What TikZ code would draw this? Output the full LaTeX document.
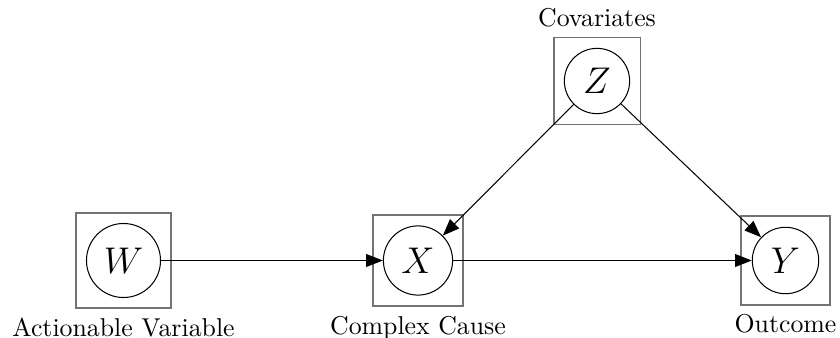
\documentclass[tikz,border=0pt]{standalone}
\usetikzlibrary{arrows.meta,fit}
\begin{document}
\begin{tikzpicture}[x=0.3876pt,y=-0.3876pt,
  var/.style={draw, circle, inner sep=3.8pt, line width=0.4pt, font=\Large},
  vbox/.style={draw=black!55, line width=0.75pt, rectangle, inner sep=4pt},
  arr/.style={-{Triangle[length=6.5pt,width=5pt]}, line width=0.4pt}]
\useasboundingbox (0,0) rectangle (840,338);
\node[var] (w) at (123.5,260.5) {$W$};
\node[var] (x) at (418,260.5) {$X$};
\node[var] (y) at (785.5,260.5) {$Y$};
\node[var] (z) at (597,81) {$Z$};
\node[vbox, fit=(w), label=below:Actionable Variable] (wb) {};
\node[vbox, fit=(x), label=below:Complex Cause] (xb) {};
\node[vbox, fit=(y), label=below:Outcome] (yb) {};
\node[vbox, fit=(z), label=above:Covariates] (zb) {};
\draw[arr] (w) -- (x);
\draw[arr] (x) -- (y);
\draw[arr] (z) -- (x);
\draw[arr] (z) -- (y);
\end{tikzpicture}
\end{document}
